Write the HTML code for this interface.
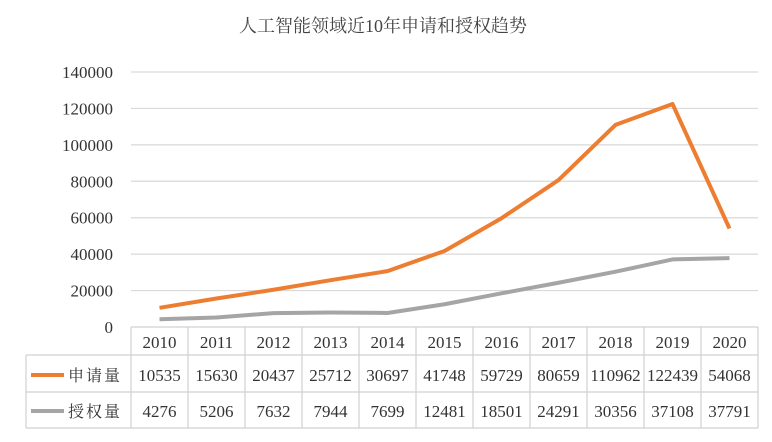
<!DOCTYPE html>
<html><head><meta charset="utf-8"><style>
body{margin:0;background:#fff;}
svg text{font-family:"Liberation Serif","Noto Serif CJK SC",serif;fill:#333;}
</style></head><body>
<svg id="chart" width="772" height="437" viewBox="0 0 772 437" xmlns="http://www.w3.org/2000/svg">
<text x="383" y="32" font-size="18" text-anchor="middle" style="font-family:'Liberation Serif','Noto Serif CJK SC',serif;fill:#444">人工智能领域近10年申请和授权趋势</text>
<g id="grid"></g><g id="yticks"></g><g id="table"></g><g id="lines"></g>
</svg>
<script>
const categories=["2010","2011","2012","2013","2014","2015","2016","2017","2018","2019","2020"];
const applications=[10535,15630,20437,25712,30697,41748,59729,80659,110962,122439,54068];
const grants=[4276,5206,7632,7944,7699,12481,18501,24291,30356,37108,37791];
const yTicks=[0,20000,40000,60000,80000,100000,120000,140000];
const NS="http://www.w3.org/2000/svg";
const x0=131,colW=57,y0=327,yTop=72,yMax=140000;
const xs=i=>x0+colW*(i+0.5);
const ys=v=>y0-(v/yMax)*(y0-yTop);
function mk(t,a,p){const e=document.createElementNS(NS,t);for(const k in a)e.setAttribute(k,a[k]);p.appendChild(e);return e;}
const grid=document.getElementById('grid'),yt=document.getElementById('yticks'),tb=document.getElementById('table'),ln=document.getElementById('lines');
yTicks.forEach(v=>{
 if(v>0){const l=mk('line',{x1:x0,x2:x0+colW*11,y1:ys(v),y2:ys(v),stroke:'#d9d9d9','stroke-width':1.2},grid);
 
 }
 const t=mk('text',{x:113,y:ys(v)+6,'font-size':17,'text-anchor':'end'},yt);t.textContent=v;
 
 
});
const rows=[327,355,392,428];
const xEnd=x0+colW*11;
[[x0,rows[0],xEnd,rows[0]],[26,rows[1],xEnd,rows[1]],[26,rows[2],xEnd,rows[2]],[26,rows[3],xEnd,rows[3]],[26,rows[1],26,rows[3]]].forEach(c=>{
 const l=mk('line',{x1:c[0],y1:c[1],x2:c[2],y2:c[3],stroke:'#d0d0d0','stroke-width':1.2},tb);
 
 
});
for(let i=0;i<=11;i++){const l=mk('line',{x1:x0+colW*i,x2:x0+colW*i,y1:rows[0],y2:rows[3],stroke:'#d0d0d0','stroke-width':1.2},tb);
 
 }
categories.forEach((c,i)=>{
 const t=mk('text',{x:xs(i),y:348,'font-size':17,'text-anchor':'middle'},tb);t.textContent=c;
 
 
 const a=mk('text',{x:xs(i),y:381,'font-size':17,'text-anchor':'middle'},tb);a.textContent=applications[i];
 
 
 const g=mk('text',{x:xs(i),y:417,'font-size':17,'text-anchor':'middle'},tb);g.textContent=grants[i];
 
 
});
[['申请量','#ed7d31',375],['授权量','#a5a5a5',411]].forEach(r=>{
 const l=mk('line',{x1:31,x2:64,y1:r[2],y2:r[2],stroke:r[1],'stroke-width':4},tb);
 
 
 const t=mk('text',{x:68,y:r[2]+6,'font-size':16,'letter-spacing':'2'},tb);t.textContent=r[0];
 
 
});
[[grants,'#a5a5a5','grants-line'],[applications,'#ed7d31','applications-line']].forEach(s=>{
 const p=mk('polyline',{points:s[0].map((v,i)=>xs(i)+','+ys(v)).join(' '),fill:'none',stroke:s[1],'stroke-width':4,'stroke-linejoin':'round'},ln);
 
 
});
</script>
</body></html>
